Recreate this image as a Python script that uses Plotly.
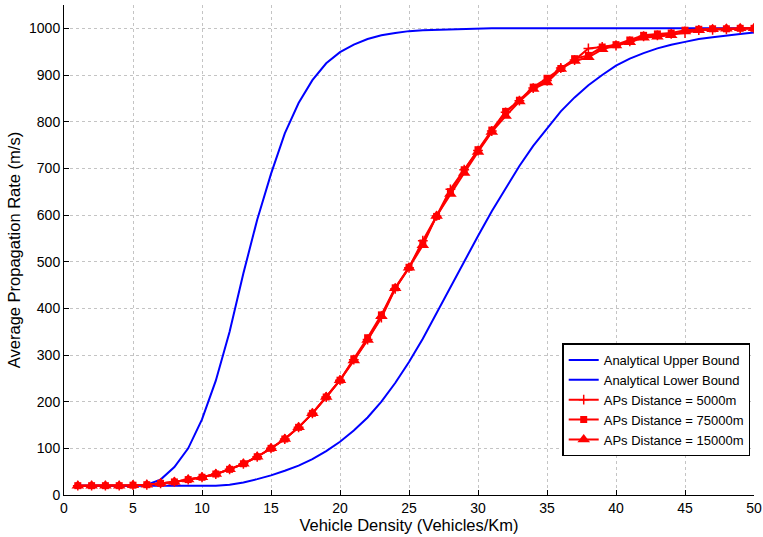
import plotly.graph_objects as go

density = list(range(1, 51))

upper_bound = [20, 20, 20, 20, 20, 22, 33, 60, 100, 162,
               245, 350, 475, 590, 688, 775, 840, 889, 925, 949,
               965, 977, 985, 990, 994, 996, 997, 998, 999, 999,
               1000, 1000, 1000, 1000, 1000, 1000, 1000, 1000, 1000, 1000,
               1000, 1000, 1000, 1000, 1000, 1000, 1000, 1000, 1000, 1000]

lower_bound = [20, 20, 20, 20, 20, 20, 20, 20, 20, 20,
               20, 22, 27, 34, 42, 52, 63, 77, 94, 114,
               138, 166, 200, 240, 285, 335, 390, 447, 502, 555,
               608, 658, 705, 748, 786, 822, 852, 878, 900, 920,
               935, 947, 957, 965, 971, 977, 981, 985, 988, 991]

aps_5000 = [20, 20, 20, 20, 21, 22, 25, 28, 33, 38,
            45, 55, 67, 82, 100, 120, 145, 175, 210, 246,
            290, 333, 380, 442, 487, 545, 598, 655, 697, 738,
            780, 820, 845, 872, 888, 915, 932, 957, 960, 963,
            972, 983, 985, 988, 990, 996, 997, 998, 999, 1000]

aps_75000 = [20, 20, 20, 20, 21, 22, 25, 28, 33, 38,
             45, 55, 67, 82, 100, 120, 145, 175, 210, 246,
             292, 337, 386, 444, 488, 540, 597, 650, 697, 740,
             782, 822, 846, 874, 893, 914, 935, 942, 960, 965,
             975, 985, 988, 990, 996, 998, 999, 999, 1000, 1000]

aps_15000 = [20, 20, 20, 20, 21, 22, 25, 28, 33, 38,
             45, 55, 67, 82, 100, 120, 145, 175, 210, 246,
             288, 332, 383, 443, 487, 535, 598, 645, 690, 735,
             778, 812, 843, 870, 884, 913, 930, 938, 955, 963,
             970, 980, 982, 985, 993, 996, 998, 999, 1000, 1000]

x_ticks = [0, 5, 10, 15, 20, 25, 30, 35, 40, 45, 50]
y_ticks = [0, 100, 200, 300, 400, 500, 600, 700, 800, 900, 1000]

FONT = "Liberation Sans, Arial"

fig = go.Figure()
fig.add_trace(go.Scatter(x=density, y=upper_bound, mode="lines",
                         name="Analytical Upper Bound",
                         line=dict(color="#0000ff", width=2)))
fig.add_trace(go.Scatter(x=density, y=lower_bound, mode="lines",
                         name="Analytical Lower Bound",
                         line=dict(color="#0000ff", width=2)))
fig.add_trace(go.Scatter(x=density, y=aps_5000, mode="lines+markers",
                         name="APs Distance = 5000m",
                         line=dict(color="#ff0000", width=2),
                         marker=dict(symbol="cross-thin", size=7, color="#ff0000",
                                     line=dict(color="#ff0000", width=1.5))))
fig.add_trace(go.Scatter(x=density, y=aps_75000, mode="lines+markers",
                         name="APs Distance = 75000m",
                         line=dict(color="#ff0000", width=2),
                         marker=dict(symbol="square", size=7, color="#ff0000")))
fig.add_trace(go.Scatter(x=density, y=aps_15000, mode="lines+markers",
                         name="APs Distance = 15000m",
                         line=dict(color="#ff0000", width=2),
                         marker=dict(symbol="triangle-up", size=11, color="#ff0000")))

axis_common = dict(
    showgrid=True, gridcolor="#c4c4c4", griddash="dot", gridwidth=1,
    showline=True, linecolor="black", linewidth=1,
    ticks="inside", ticklen=5, tickcolor="black",
    zeroline=False, mirror=False, automargin=False,
    tickfont=dict(family=FONT, size=14, color="black"),
)

fig.update_xaxes(range=[0, 50], tickvals=x_ticks, ticktext=[str(v) for v in x_ticks],
                 title=dict(text="Vehicle Density (Vehicles/Km)", standoff=0,
                            font=dict(family=FONT, size=16.5, color="black")),
                 **axis_common)
fig.update_yaxes(range=[0, 1050], tickvals=y_ticks, ticktext=[str(v) for v in y_ticks],
                 title=dict(text="Average Propagation Rate (m/s)", standoff=4,
                            font=dict(family=FONT, size=16.5, color="black")),
                 **axis_common)

fig.update_layout(
    width=763, height=537,
    margin=dict(l=64, r=9, t=5, b=42),
    paper_bgcolor="white", plot_bgcolor="white",
    font=dict(family=FONT, color="black"),
    legend=dict(x=0.9945, y=0.194, xanchor="right", yanchor="middle",
                bgcolor="white", bordercolor="black", borderwidth=1.5,
                font=dict(family=FONT, size=13, color="black"),
                tracegroupgap=0, itemwidth=30),
    showlegend=True,
)

fig.write_html("out.html", config={"displayModeBar": False},
               post_script="document.body.style.margin='0';document.body.style.padding='0';")
